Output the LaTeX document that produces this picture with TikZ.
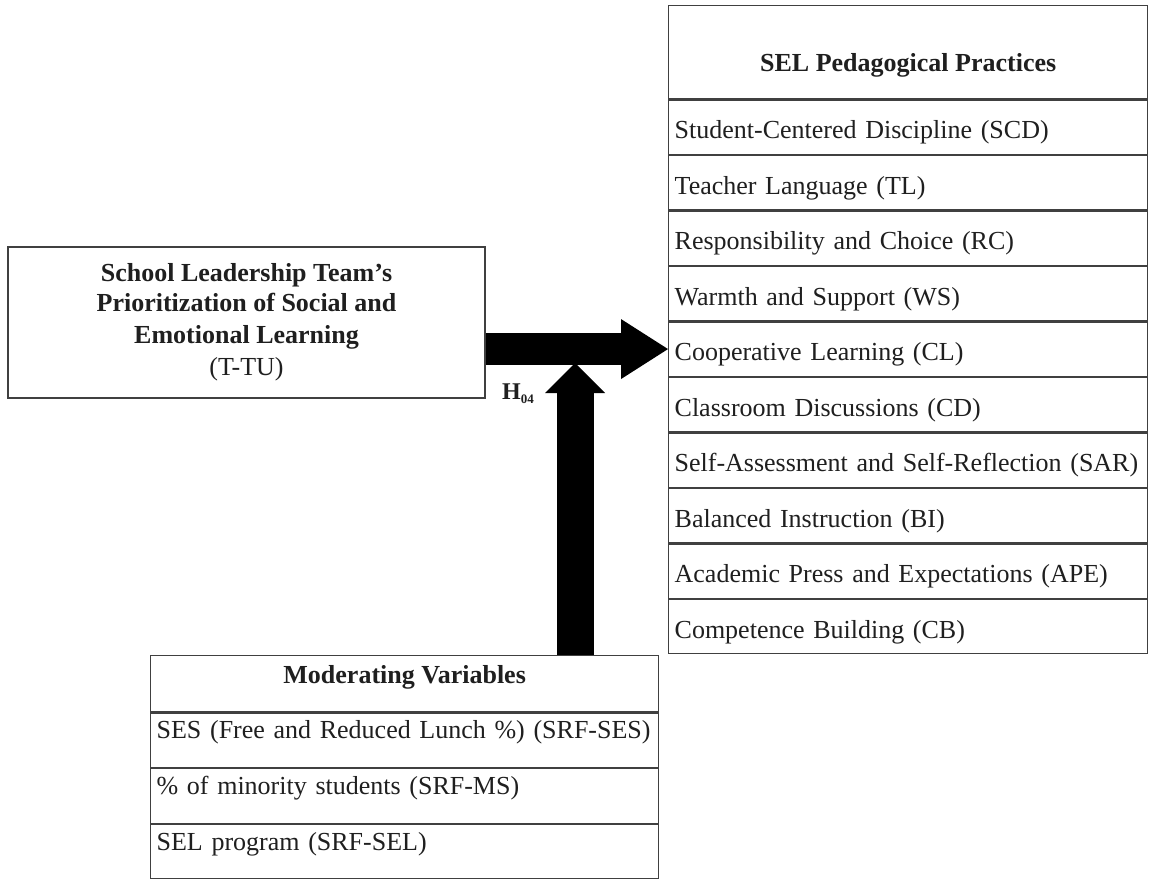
\documentclass[tikz,border=0pt]{standalone}
\usepackage{fontspec}
\setmainfont{Liberation Serif}
\usetikzlibrary{arrows.meta,calc}
\begin{document}
\begin{tikzpicture}[x=1pt,y=-1pt,
  box/.style={draw=black!75, line width=1.3pt, inner xsep=6pt, inner ysep=0pt, text=black!88, font=\fontsize{26}{32.4}\selectfont},
  rrow/.style={box, anchor=north west, text width=467pt, align=left, text height=39pt, text depth=15.2pt},
  rhead/.style={box, anchor=north west, minimum width=479pt, text height=66pt, text depth=27pt, font=\fontsize{26}{31}\selectfont\bfseries},
  mrow/.style={box, anchor=north west, text width=496pt, align=left, text height=26pt, text depth=28.5pt},
  mhead/.style={box, anchor=north west, minimum width=508pt, text height=28pt, text depth=28pt, font=\fontsize{26}{31}\selectfont\bfseries},
  bigarrow/.style={line width=32pt, -{Triangle[length=47pt, width=60pt, line width=0pt]}},
  uparrow/.style={line width=37pt, -{Triangle[length=30pt, width=60pt, line width=0pt]}}
]
\useasboundingbox (0,0) rectangle (1150,878);
\fill[white] (0,0) rectangle (1150,878);

% right table
\node[rhead] (hdr) at (668,5) {SEL Pedagogical Practices};
\node[rrow] (r1) at (hdr.south west) {Student-Centered Discipline (SCD)};
\node[rrow] (r2) at (r1.south west) {Teacher Language (TL)};
\node[rrow] (r3) at (r2.south west) {Responsibility and Choice (RC)};
\node[rrow] (r4) at (r3.south west) {Warmth and Support (WS)};
\node[rrow] (r5) at (r4.south west) {Cooperative Learning (CL)};
\node[rrow] (r6) at (r5.south west) {Classroom Discussions (CD)};
\node[rrow] (r7) at (r6.south west) {Self-Assessment and Self-Reflection (SAR)};
\node[rrow] (r8) at (r7.south west) {Balanced Instruction (BI)};
\node[rrow] (r9) at (r8.south west) {Academic Press and Expectations (APE)};
\node[rrow] (r10) at (r9.south west) {Competence Building (CB)};

% left box
\node[box, align=center, minimum width=477pt, minimum height=151pt] (tl) at (246.5,322.5)
  {\raisebox{-3pt}{\textbf{School Leadership Team’s}}\\\textbf{Prioritization of Social and}\\\textbf{Emotional Learning}\\(T-TU)};

% moderating table
\node[mhead] (mh) at (150,655) {Moderating Variables};
\node[mrow] (m1) at (mh.south west) {SES (Free and Reduced Lunch \%) (SRF-SES)};
\node[mrow] (m2) at (m1.south west) {\% of minority students (SRF-MS)};
\node[mrow] (m3) at (m2.south west) {SEL program (SRF-SEL)};

% arrows
\draw[bigarrow] (tl.east |- r5.west) -- (r5.west);
\coordinate (vtip) at (575,363);
\draw[uparrow] (mh.north -| vtip) -- (vtip);

\node[text=black!88] (h04) at (518,394) {\fontsize{24}{28}\selectfont\bfseries H\raisebox{-4pt}{\fontsize{13}{15}\selectfont 04}};
\end{tikzpicture}
\end{document}
